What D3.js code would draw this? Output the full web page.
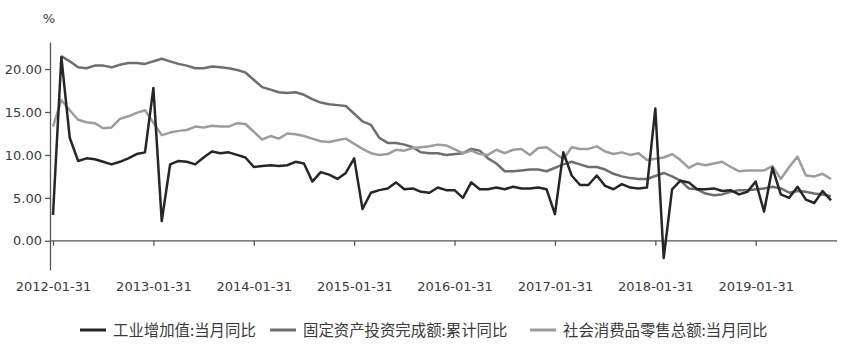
<!DOCTYPE html>
<html>
<head>
<meta charset="utf-8">
<script src="https://cdn.jsdelivr.net/npm/d3@7"></script>
<style>
  body { margin: 0; background: #fff; }
  svg { display: block; }
</style>
</head>
<body>
<svg id="chart"></svg>
<script>
// monthly data 2012-01 .. 2019-10
var years = [2012, 2013, 2014, 2015, 2016, 2017, 2018, 2019];
var lastMonth = 10; // of the last year

var tickLabels = ["2012-01-31", "2013-01-31", "2014-01-31", "2015-01-31",
                  "2016-01-31", "2017-01-31", "2018-01-31", "2019-01-31"];
var yTicks = [0, 5, 10, 15, 20];

var seriesNames = ["工业增加值:当月同比", "固定资产投资完成额:累计同比", "社会消费品零售总额:当月同比"];

var industry = [
  3.0, 21.4, 12.0, 9.3, 9.6, 9.5, 9.2, 8.9, 9.2, 9.6, 10.1, 10.3,
  17.8, 2.3, 8.9, 9.3, 9.2, 8.9, 9.7, 10.4, 10.2, 10.3, 10.0, 9.7,
  8.6, 8.7, 8.8, 8.7, 8.8, 9.2, 9.0, 6.9, 8.0, 7.7, 7.2, 7.9,
  9.6, 3.7, 5.6, 5.9, 6.1, 6.8, 6.0, 6.1, 5.7, 5.6, 6.2, 5.9,
  5.9, 5.0, 6.8, 6.0, 6.0, 6.2, 6.0, 6.3, 6.1, 6.1, 6.2, 6.0,
  3.1, 10.3, 7.6, 6.5, 6.5, 7.6, 6.4, 6.0, 6.6, 6.2, 6.1, 6.2,
  15.4, -2.0, 6.0, 7.0, 6.8, 6.0, 6.0, 6.1, 5.8, 5.9, 5.4, 5.7,
  6.9, 3.4, 8.5, 5.4, 5.0, 6.3, 4.8, 4.4, 5.8, 4.7
];

var investment = [
  null, 21.5, 20.9, 20.2, 20.1, 20.4, 20.4, 20.2, 20.5, 20.7, 20.7, 20.6,
  null, 21.2, 20.9, 20.6, 20.4, 20.1, 20.1, 20.3, 20.2, 20.1, 19.9, 19.6,
  null, 17.9, 17.6, 17.3, 17.2, 17.3, 17.0, 16.5, 16.1, 15.9, 15.8, 15.7,
  null, 13.9, 13.5, 12.0, 11.4, 11.4, 11.2, 10.9, 10.3, 10.2, 10.2, 10.0,
  null, 10.2, 10.7, 10.5, 9.6, 9.0, 8.1, 8.1, 8.2, 8.3, 8.3, 8.1,
  null, 8.9, 9.2, 8.9, 8.6, 8.6, 8.3, 7.8, 7.5, 7.3, 7.2, 7.2,
  null, 7.9, 7.5, 7.0, 6.1, 6.0, 5.5, 5.3, 5.4, 5.7, 5.9, 5.9,
  null, 6.1, 6.3, 6.1, 5.6, 5.8, 5.7, 5.5, 5.4, 5.2
];

var retail = [
  13.3, 16.4, 15.2, 14.1, 13.8, 13.7, 13.1, 13.2, 14.2, 14.5, 14.9, 15.2,
  null, 12.3, 12.6, 12.8, 12.9, 13.3, 13.2, 13.4, 13.3, 13.3, 13.7, 13.6,
  null, 11.8, 12.2, 11.9, 12.5, 12.4, 12.2, 11.9, 11.6, 11.5, 11.7, 11.9,
  null, 10.7, 10.2, 10.0, 10.1, 10.6, 10.5, 10.8, 10.9, 11.0, 11.2, 11.1,
  null, 10.2, 10.5, 10.1, 10.0, 10.6, 10.2, 10.6, 10.7, 10.0, 10.8, 10.9,
  null, 9.5, 10.9, 10.7, 10.7, 11.0, 10.4, 10.1, 10.3, 10.0, 10.2, 9.4,
  null, 9.7, 10.1, 9.4, 8.5, 9.0, 8.8, 9.0, 9.2, 8.6, 8.1, 8.2,
  null, 8.2, 8.7, 7.2, 8.6, 9.8, 7.6, 7.5, 7.8, 7.2
];

var colors = ["#262626", "#6e6e6e", "#9d9d9d"];

function LineChart() {
  var width = 843, height = 352;
  var fontFamily = "'DejaVu Sans', sans-serif";
  var textColor = "#3a3a3a";
  var axisColor = "#555";

  // month-end category labels
  var months = [];
  var fmt = d3.timeFormat("%Y-%m-%d");
  years.forEach(function(yr, i) {
    var n = (i === years.length - 1) ? lastMonth : 12;
    for (var m = 1; m <= n; m++) {
      months.push(fmt(d3.timeDay.offset(new Date(yr, m, 1), -1)));
    }
  });

  var x = d3.scalePoint().domain(months).range([53, 831]);
  var y = d3.scaleLinear().domain([-3.4, 23.15]).range([270, 42]);

  var svg = d3.select("#chart")
    .attr("width", width)
    .attr("height", height);

  // y axis
  var yAxis = svg.append("g")
    .attr("transform", "translate(50,0)")
    .call(d3.axisLeft(y)
      .tickValues(yTicks)
      .tickFormat(d3.format(".2f"))
      .tickSize(5)
      .tickSizeOuter(0)
      .tickPadding(3));
  yAxis.selectAll("text")
    .style("font-family", fontFamily)
    .style("font-size", "13px")
    .attr("fill", textColor);
  yAxis.selectAll("line, path").attr("stroke", axisColor).attr("stroke-width", 1.3);

  svg.append("text")
    .attr("x", 49)
    .attr("y", 23)
    .attr("text-anchor", "middle")
    .style("font-family", fontFamily)
    .style("font-size", "13px")
    .attr("fill", textColor)
    .text("%");

  // x axis at zero
  var xAxis = svg.append("g")
    .attr("transform", "translate(0," + y(0) + ")")
    .call(d3.axisBottom(x)
      .tickValues(tickLabels)
      .tickSize(5)
      .tickPadding(36));
  xAxis.select(".domain").remove();
  xAxis.append("line")
    .attr("x1", 50).attr("x2", 837)
    .attr("stroke", axisColor).attr("stroke-width", 1.3);
  xAxis.selectAll(".tick line").attr("stroke", axisColor).attr("stroke-width", 1.3);
  xAxis.selectAll("text")
    .style("font-family", fontFamily)
    .style("font-size", "13px")
    .attr("fill", textColor);

  // lines
  var all = [industry, investment, retail];
  var line = d3.line()
    .x(function(d) { return x(d.date); })
    .y(function(d) { return y(d.v); });

  [1, 2, 0].forEach(function(k) {
    var pts = months.map(function(m, i) { return { date: m, v: all[k][i] }; })
      .filter(function(d) { return d.v !== null; });
    svg.append("path")
      .datum(pts)
      .attr("fill", "none")
      .attr("stroke", colors[k])
      .attr("stroke-width", 2.5)
      .attr("stroke-linejoin", "round")
      .attr("d", line);
  });

  // legend
  var legendX = [80, 270, 530];
  var legendY = 330;
  var lg = svg.append("g");
  seriesNames.forEach(function(name, i) {
    lg.append("line")
      .attr("x1", legendX[i]).attr("x2", legendX[i] + 26)
      .attr("y1", legendY).attr("y2", legendY)
      .attr("stroke", colors[i])
      .attr("stroke-width", 3);
    lg.append("text")
      .attr("x", legendX[i] + 33)
      .attr("y", legendY)
      .attr("dy", "0.36em")
      .style("font-family", "'Noto Sans CJK SC', sans-serif")
      .style("font-size", "15.4px")
      .attr("fill", textColor)
      .text(name);
  });
}
LineChart();
</script>
</body>
</html>
